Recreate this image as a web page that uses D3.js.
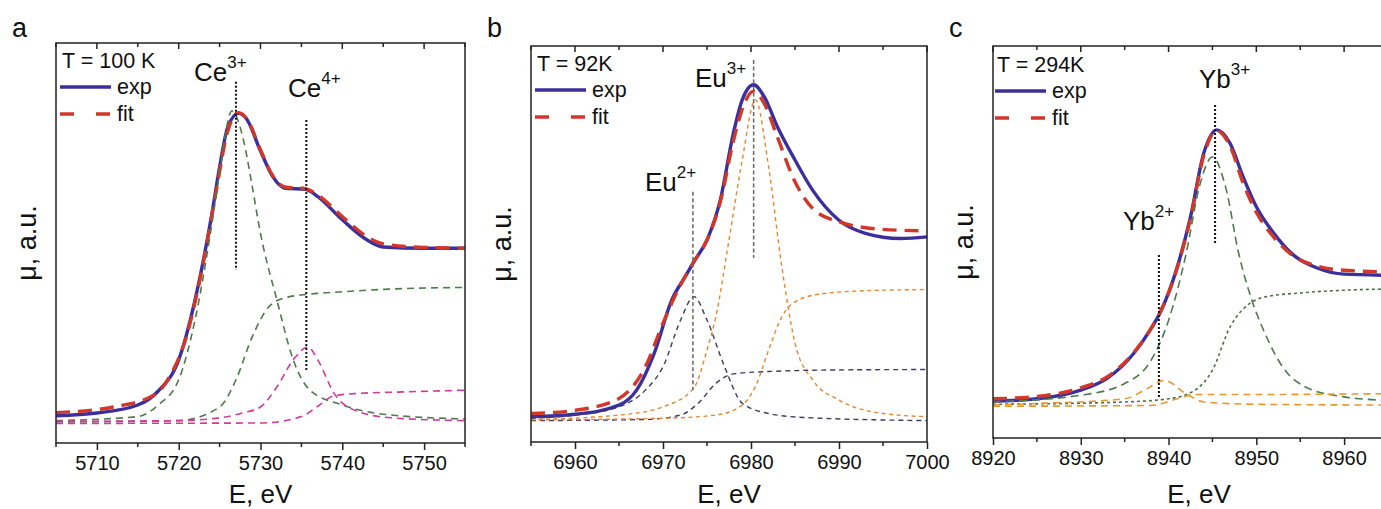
<!DOCTYPE html>
<html lang="en">
<head>
<meta charset="UTF-8">
<title>XANES fits</title>
<script src="https://d3js.org/d3.v7.min.js"></script>
<style>
  body { margin: 0; background: #fff; }
  svg text { font-family: "Liberation Sans", Arial, sans-serif; fill: #111; }
</style>
</head>
<body>
<svg id="chart" width="1381" height="509"></svg>
<script>
// values: [E (eV), mu in % of the plot height]

// --- panel a : Ce ---
const ceExp = [[5705,6.8],[5710,7.5],[5715,9.5],[5717.5,13],[5720,20.8],[5722,35.8],[5724,56.6],[5725,69],[5726,79],[5727.3,82.4],[5728.3,81],[5730,73],[5731.5,66.6],[5733,63.7],[5735.5,63.4],[5737,61.6],[5740,55.8],[5743,50.8],[5745,49],[5750,48.7],[5755,48.7]];
const ceFit = [[5705,7.6],[5712,9],[5717,12],[5719,17],[5721,27],[5723,45],[5724.5,62],[5726,78],[5727.3,82.6],[5728.3,81.2],[5730,73.3],[5731.5,66.8],[5733,64],[5735.5,63.6],[5737,62],[5740,56.6],[5743,51.6],[5745,49.8],[5750,48.9],[5755,48.7]];
const ce3Peak = [[5705,5.6],[5715,6.6],[5717.5,9.5],[5720,15.8],[5722,30.8],[5724,54],[5725,67.5],[5726.5,83],[5728,75],[5729,64],[5730,52.4],[5732,35.8],[5734,20.8],[5736,13.3],[5740,9.5],[5745,7.2],[5755,6]];
const ce3Step = [[5705,5.3],[5720,5.6],[5725,9],[5727,15.8],[5729,26.6],[5731,34],[5733,36.3],[5736,37.2],[5740,37.8],[5745,38.4],[5755,38.9]];
const ce4Peak = [[5705,5.4],[5720,5.6],[5725,6.3],[5728,7.6],[5730,9],[5732,14],[5734,20.8],[5735.8,24],[5737,20.8],[5739,12.4],[5742,7.8],[5746,6.3],[5755,5.6]];
const ce4Step = [[5705,4.9],[5730,5],[5735,6.6],[5737,9.2],[5739,11.8],[5742,12.4],[5748,12.8],[5755,13.2]];

// --- panel b : Eu ---
const euExp = [[6955,6.4],[6960,7],[6965,9.3],[6967,13.1],[6969,22.4],[6971,35.9],[6972.5,41.7],[6973.5,45.5],[6975,51],[6976.5,61],[6978,78],[6979,86.4],[6980.3,90.2],[6981.5,87.2],[6983,79.6],[6985,71.2],[6987,63.6],[6990,56],[6993,52.7],[6997,51.4],[7000,51.8]];
const euFit = [[6955,7.2],[6960,8],[6965,11],[6968,19],[6970,30],[6971.5,37.5],[6973.5,45.5],[6975,51],[6976.5,60.5],[6978,76],[6979,84],[6980.3,88.6],[6981.5,85.5],[6983,77],[6985,65.7],[6987,59],[6990,55.6],[6995,53.7],[7000,53.3]];
const eu2Peak = [[6955,6],[6960,6.8],[6965,8.9],[6968,13.1],[6970,19],[6972,30.8],[6973.5,36.7],[6975,30.8],[6977,19],[6979,9.8],[6982,7.2],[6986,6.2],[7000,5.4]];
const eu2Step = [[6955,5.4],[6968,5.7],[6972,6.8],[6974,9.8],[6976,14.8],[6978,17.2],[6982,17.8],[6990,18.2],[7000,18.3]];
const eu3Peak = [[6955,5.7],[6965,6.8],[6970,8.9],[6973.5,13.6],[6975,23.2],[6976,31.6],[6977.5,51],[6979,71.2],[6980.5,86.4],[6982,69.5],[6983.5,44.3],[6985,25],[6987,15.7],[6990,10.6],[6995,7.2],[7000,6.4]];
const eu3Step = [[6955,5.6],[6970,6],[6976,6.8],[6979,9.3],[6980.5,14],[6982,23.2],[6983.5,31.6],[6985,35.4],[6988,37.4],[6993,38.2],[7000,38.5]];

// --- panel c : Yb ---
const ybExp = [[8920,9.4],[8925,10],[8930,12.2],[8933,15.2],[8936,21.5],[8938,27.9],[8939,31.8],[8941,43.7],[8942.5,56.4],[8944,72.6],[8945.5,78.6],[8947,75.2],[8948.5,66.6],[8950,59],[8952,52.2],[8954,47.1],[8957,43.3],[8960,41.8],[8965,41.5]];
const ybFit = [[8920,10],[8925,10.6],[8930,12.8],[8933,15.6],[8936,21.7],[8938,27.9],[8939,31.8],[8941,43.5],[8942.5,56],[8944,72],[8945.5,78.4],[8947,74.5],[8948.5,65],[8950,57.6],[8952,51.2],[8954,46.8],[8957,43.8],[8960,42.8],[8965,42.4]];
const yb3Peak = [[8920,9.2],[8930,10.9],[8935,13.9],[8938,19.8],[8940,30],[8942,47],[8943.5,64],[8945,71.7],[8946.5,64],[8948,47],[8949.5,35.1],[8951,26.6],[8953,18.1],[8956,12.6],[8960,10.5],[8965,9.6]];
const yb3Step = [[8920,8.6],[8935,9.2],[8940,10],[8943,12.2],[8945,17.3],[8947,28.3],[8949,33.9],[8951,36],[8955,37],[8960,37.7],[8965,38]];
const yb2Peak = [[8920,8.4],[8925,8.8],[8935,10],[8937.5,12.5],[8939.5,14.7],[8942,11.3],[8944,9.2],[8950,8.6],[8965,8.4]];
const yb2Step = [[8920,8.1],[8938,8.3],[8941,10],[8943,11.1],[8950,11.1],[8965,11.3]];

// tick values per panel
const ceTicks = [5710, 5720, 5730, 5740, 5750];
const euTicks = [6960, 6970, 6980, 6990, 7000];
const ybTicks = [8920, 8930, 8940, 8950, 8960];

const expColor = "#3b2f9e", fitColor = "#d2382a";

const panels = [
  {
    letter: "a", box: [56, 43, 465, 443], domain: [5705, 5755], ticks: ceTicks,
    temp: "T = 100 K", legend: [60, 68],
    comps: [
      { d: ce3Peak, c: "#4e7a4c", dash: "7,5", w: 1.6 },
      { d: ce3Step, c: "#4e7a4c", dash: "7,5", w: 1.6 },
      { d: ce4Peak, c: "#d4389c", dash: "7,5", w: 1.6 },
      { d: ce4Step, c: "#d4389c", dash: "7,5", w: 1.6 }
    ],
    exp: ceExp, fit: ceFit,
    marks: [
      { e: 5727, y0: 81.7, y1: 270, c: "#111", dash: "2,2", w: 2 },
      { e: 5735.6, y0: 120, y1: 372, c: "#111", dash: "2,2", w: 2 }
    ],
    ions: [
      { t: "Ce", s: "3+", x: 194, y: 81 },
      { t: "Ce", s: "4+", x: 288, y: 97 }
    ]
  },
  {
    letter: "b", box: [531, 46, 927, 442], domain: [6955, 7000], ticks: euTicks,
    temp: "T = 92K", legend: [535, 71],
    comps: [
      { d: eu2Peak, c: "#3d3b63", dash: "5,4", w: 1.4 },
      { d: eu2Step, c: "#3d3b63", dash: "5,4", w: 1.4 },
      { d: eu3Peak, c: "#e9862f", dash: "4,3.5", w: 1.4 },
      { d: eu3Step, c: "#e9862f", dash: "4,3.5", w: 1.4 }
    ],
    exp: euExp, fit: euFit,
    marks: [
      { e: 6973.4, y0: 191.7, y1: 390, c: "#666", dash: "4,2.5", w: 1.5 },
      { e: 6980.3, y0: 60, y1: 258, c: "#666", dash: "4,2.5", w: 1.5 }
    ],
    ions: [
      { t: "Eu", s: "2+", x: 645, y: 191 },
      { t: "Eu", s: "3+", x: 695, y: 87 }
    ]
  },
  {
    letter: "c", box: [993, 46, 1388, 438], domain: [8920, 8965], ticks: ybTicks,
    temp: "T = 294K", legend: [995, 72],
    comps: [
      { d: yb3Peak, c: "#4e7a4c", dash: "8,5", w: 1.6 },
      { d: yb3Step, c: "#4e6e44", dash: "3,3", w: 1.6 },
      { d: yb2Peak, c: "#e8962f", dash: "7,5", w: 1.6 },
      { d: yb2Step, c: "#e8962f", dash: "7,5", w: 1.6 }
    ],
    exp: ybExp, fit: ybFit,
    marks: [
      { e: 8938.9, y0: 255, y1: 398, c: "#111", dash: "2,2", w: 2 },
      { e: 8945.3, y0: 105, y1: 245, c: "#111", dash: "2,2", w: 2 }
    ],
    ions: [
      { t: "Yb", s: "2+", x: 1123, y: 230 },
      { t: "Yb", s: "3+", x: 1199, y: 88 }
    ]
  }
];

const svg = d3.select("#chart");

panels.forEach((p, i) => {
  const [x0, y0, x1, y1] = p.box;
  const x = d3.scaleLinear().domain(p.domain).range([x0, x1]);
  const y = d3.scaleLinear().domain([0, 100]).range([y1, y0]);
  const g = svg.append("g");

  const clipId = "clip" + i;
  svg.append("clipPath").attr("id", clipId)
    .append("rect").attr("x", x0).attr("y", y0).attr("width", x1 - x0).attr("height", y1 - y0);

  const line = d3.line().x(d => x(d[0])).y(d => y(d[1])).curve(d3.curveMonotoneX);
  const plot = g.append("g").attr("clip-path", `url(#${clipId})`);

  // experiment and fit
  plot.append("path").attr("d", line(p.exp)).attr("fill", "none")
    .attr("stroke", expColor).attr("stroke-width", 3.4);
  plot.append("path").attr("d", line(p.fit)).attr("fill", "none")
    .attr("stroke", fitColor).attr("stroke-width", 3.4).attr("stroke-dasharray", "14,8");

  // fit components
  p.comps.forEach(c => {
    plot.append("path").attr("d", line(c.d)).attr("fill", "none")
      .attr("stroke", c.c).attr("stroke-width", c.w).attr("stroke-dasharray", c.dash);
  });

  // peak position markers
  p.marks.forEach(m => {
    g.append("line").attr("x1", x(m.e)).attr("x2", x(m.e))
      .attr("y1", m.y0).attr("y2", m.y1)
      .attr("stroke", m.c).attr("stroke-width", m.w).attr("stroke-dasharray", m.dash);
  });

  // frame
  g.append("rect").attr("x", x0).attr("y", y0).attr("width", x1 - x0).attr("height", y1 - y0)
    .attr("fill", "none").attr("stroke", "#222").attr("stroke-width", 1.5);

  // bottom axis, ticks outward
  const minor = d3.range(p.domain[0], p.domain[1] + 0.01, 5);
  const bottom = g.append("g").attr("transform", `translate(0,${y1})`)
    .call(d3.axisBottom(x).tickValues(p.ticks).tickSize(7).tickPadding(6).tickFormat(d3.format("d")));
  bottom.select(".domain").remove();
  bottom.selectAll(".tick line").attr("stroke", "#222").attr("stroke-width", 1.5);
  bottom.selectAll(".tick text").attr("font-size", 20)
    .style("font-family", "'Liberation Sans', Arial, sans-serif").attr("fill", "#111");
  g.append("g").selectAll("line").data(minor.filter(v => !p.ticks.includes(v))).join("line")
    .attr("x1", d => x(d)).attr("x2", d => x(d)).attr("y1", y1).attr("y2", y1 + 4)
    .attr("stroke", "#222").attr("stroke-width", 1.5);

  // mirrored top ticks, inward
  g.append("g").selectAll("line").data(minor).join("line")
    .attr("x1", d => x(d)).attr("x2", d => x(d)).attr("y1", y0)
    .attr("y2", d => y0 + (p.ticks.includes(d) ? 6 : 4))
    .attr("stroke", "#222").attr("stroke-width", 1.5);

  // titles
  g.append("text").attr("x", (x0 + Math.min(x1, 1381)) / 2 + (i === 2 ? 12 : 0)).attr("y", 503)
    .attr("text-anchor", "middle").attr("font-size", 26).text("E, eV");
  g.append("text").attr("transform", `translate(${x0 - 20},${(y0 + y1) / 2}) rotate(-90)`)
    .attr("text-anchor", "middle").attr("font-size", 27).text("\u03bc, a.u.");
  g.append("text").attr("x", x0 - 44).attr("y", 37).attr("font-size", 27).text(p.letter);

  // legend
  const [lx, ly] = p.legend;
  g.append("text").attr("x", lx + 2).attr("y", ly).attr("font-size", 21.5).text(p.temp);
  g.append("line").attr("x1", lx).attr("x2", lx + 51).attr("y1", ly + 19).attr("y2", ly + 19)
    .attr("stroke", expColor).attr("stroke-width", 3.4);
  g.append("text").attr("x", lx + 57).attr("y", ly + 26).attr("font-size", 21.5).text("exp");
  g.append("line").attr("x1", lx).attr("x2", lx + 51).attr("y1", ly + 46).attr("y2", ly + 46)
    .attr("stroke", fitColor).attr("stroke-width", 3.4).attr("stroke-dasharray", "14,22");
  g.append("text").attr("x", lx + 57).attr("y", ly + 53).attr("font-size", 21.5).text("fit");

  // ion labels with superscripts
  p.ions.forEach(o => {
    const t = g.append("text").attr("x", o.x).attr("y", o.y).attr("font-size", 26);
    t.append("tspan").text(o.t);
    t.append("tspan").attr("font-size", 17).attr("dy", -13).text(o.s);
  });
});
</script>
</body>
</html>
